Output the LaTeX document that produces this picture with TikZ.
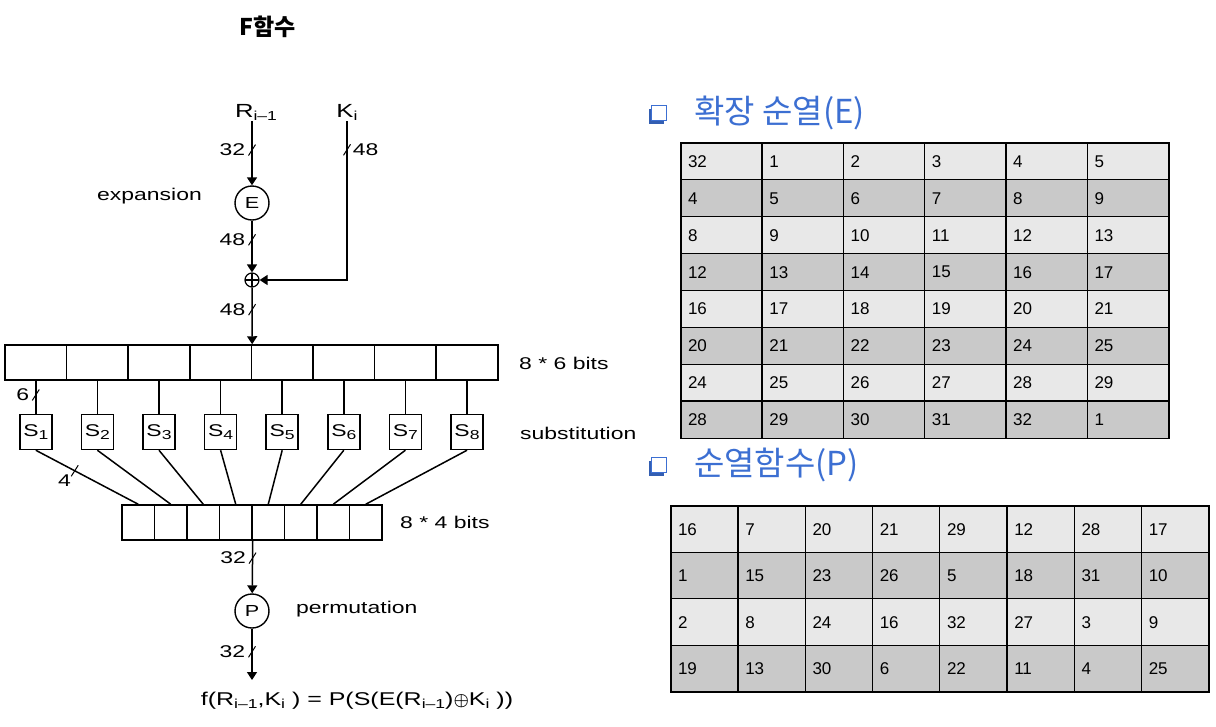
\documentclass[tikz,border=0pt]{standalone}
\usepackage{amsmath}
\usepackage{fontspec}
\setmainfont{Liberation Sans}
\newfontfamily\diagfont[FakeStretch=1.35]{Liberation Sans}
\newfontfamily\krfont{Noto Sans CJK KR}
\usetikzlibrary{arrows.meta,shadows}
\definecolor{headblue}{HTML}{3C6FD2}
\definecolor{rowlight}{HTML}{E8E8E8}
\definecolor{rowdark}{HTML}{C9C9C9}
\newcommand{\low}[1]{\raisebox{-3pt}{\fontsize{13}{13}\selectfont #1}}

\tikzset{
  wire/.style={line width=1.5pt},
  arr/.style={wire,-{Triangle[length=8pt,width=10pt]}},
  lbl/.style={font=\diagfont\fontsize{17}{17}\selectfont,inner sep=1pt},
  op/.style={circle,draw,line width=1.4pt,minimum size=34pt,inner sep=0pt,font=\diagfont\fontsize{16}{16}\selectfont},
  xorop/.style={circle,draw,line width=1.2pt,minimum size=14pt,inner sep=0pt,
    path picture={\draw[line width=1.1pt] (path picture bounding box.north) -- (path picture bounding box.south)
      (path picture bounding box.west) -- (path picture bounding box.east);}},
  bitmark/.pic={\draw[-,line width=1pt] (-3.5pt,-5.5pt) -- (3.5pt,5.5pt);},
  widecell/.style={draw,line width=1.5pt,minimum width=61.6pt,minimum height=35pt,inner sep=0pt},
  sbox/.style={draw,line width=1.5pt,minimum width=32pt,minimum height=35pt,inner sep=0pt,font=\diagfont\fontsize{17}{17}\selectfont},
  narrowcell/.style={draw,line width=1.5pt,minimum width=32.5pt,minimum height=35pt,inner sep=0pt},
  cell/.style={inner xsep=7pt,inner ysep=0pt,align=left,font=\fontsize{17}{17}\selectfont},
  gridline/.style={line width=1.3pt},
  heading/.style={anchor=west,text=headblue,font=\krfont\fontsize{33}{33}\selectfont,inner sep=0pt},
  bullet/.style={draw=headblue,fill=white,line width=1.5pt,minimum size=15pt,inner sep=0pt,
    drop shadow={shadow xshift=-3pt,shadow yshift=-3pt,fill=headblue!85!black,opacity=1}},
}

\begin{document}
\begin{tikzpicture}[x=1pt,y=-1pt]
\useasboundingbox[fill=white] (0,0) rectangle (1216,726);

\node[font=\krfont\bfseries\fontsize{23}{23}\selectfont] (title) at (268,27) {F함수};

% F function
\node[lbl,font=\diagfont\fontsize{19}{19}\selectfont] (R) at (256,112) {R\low{i–1}};
\node[lbl,font=\diagfont\fontsize{19}{19}\selectfont] (K) at (347,112) {K\low{i}};
\node[op] (E) at (252,203) {E};
\node[lbl,anchor=east] (expl) at (203,196) {expansion};
\node[xorop] (xor) at (252,280) {};

\draw[arr] (R.south -| E.north) -- pic[pos=0.45]{bitmark} node[lbl,pos=0.45,left=5pt] (w1) {32} (E);
\draw[arr] (E) -- pic[pos=0.37]{bitmark} node[lbl,pos=0.37,left=5pt] (w2) {48} (xor);
\draw[arr] (K.south) -- pic[pos=0.18]{bitmark} node[lbl,pos=0.18,right=4pt] (wk) {48} (K.south |- xor) -- (xor);

\foreach \i in {1,...,8}
  \node[widecell] (e\i) at ({5+61.6*(\i-0.5)},362.5) {};
\node[lbl,anchor=west] (ebits) at (518,363) {8 * 6 bits};
\draw[arr] (xor) -- pic[pos=0.39]{bitmark} node[lbl,pos=0.39,left=5pt] (w3) {48} (e4.north east);

\foreach \i in {1,...,8}
  \node[sbox] (s\i) at ({5+61.6*(\i-0.5)},432) {S\low{\i}};
\node[lbl,anchor=west] (subl) at (519,433) {substitution};

\foreach \i in {1,...,8}
  \node[narrowcell] (o\i) at ({122+32.5*(\i-0.5)},522.5) {};
\node[lbl,anchor=west] (obits) at (399,522) {8 * 4 bits};

\draw[wire] (e1.south) -- pic[pos=0.43]{bitmark} node[lbl,pos=0.43,left=5pt] (w6) {6} (s1.north);
\foreach \i in {2,...,8}
  \draw[wire] (e\i.south) -- (s\i.north);
\draw[wire] (s1.south) -- pic[pos=0.38]{bitmark} node[lbl,pos=0.38,below left=2pt] (w4) {4} (o1.north);
\foreach \i in {2,...,8}
  \draw[wire] (s\i.south) -- (o\i.north);

\node[op] (P) at (252,611) {P};
\node[lbl,anchor=west] (perm) at (295,609) {permutation};
\coordinate (fend) at (252,680);
\draw[arr] (o4.south east) -- pic[pos=0.33]{bitmark} node[lbl,pos=0.33,left=5pt] (w5) {32} (P);
\draw[arr] (P) -- pic[pos=0.45]{bitmark} node[lbl,pos=0.45,left=5pt] (w7) {32} (fend);
\node[lbl,font=\diagfont\fontsize{18.5}{18.5}\selectfont] (fout) at (357,701)
  {f(R\low{i–1},K\low{i} ) = P(S(E(R\low{i–1})$\boldsymbol{\oplus}$K\low{i} ))};

% expansion table
\node[bullet] (bE) at (659,113) {};
\node[heading] (hE) at (694,113) {확장 순열(E)};
\foreach \vals [count=\r] in {{32,1,2,3,4,5},{4,5,6,7,8,9},{8,9,10,11,12,13},{12,13,14,15,16,17},
    {16,17,18,19,20,21},{20,21,22,23,24,25},{24,25,26,27,28,29},{28,29,30,31,32,1}}
  \foreach \v [count=\c] in \vals {
    \ifodd\r \def\rowfill{rowlight}\else \def\rowfill{rowdark}\fi
    \node[cell,fill=\rowfill,text width=67.3pt,minimum height=36.9pt] (E-\r-\c)
      at ({681+81.3*(\c-0.5)},{143+36.9*(\r-0.5)}) {\v};
  }
\foreach \c in {2,...,6}
  \draw[gridline] (E-1-\c.north west) -- (E-8-\c.south west);
\foreach \r in {2,...,8}
  \draw[gridline] (E-\r-1.north west) -- (E-\r-6.north east);
\draw[line width=1.8pt] (E-1-1.north west) rectangle (E-8-6.south east);

% permutation table
\node[bullet] (bP) at (659,465) {};
\node[heading] (hP) at (694,465) {순열함수(P)};
\foreach \vals [count=\r] in {{16,7,20,21,29,12,28,17},{1,15,23,26,5,18,31,10},
    {2,8,24,16,32,27,3,9},{19,13,30,6,22,11,4,25}}
  \foreach \v [count=\c] in \vals {
    \ifodd\r \def\rowfill{rowlight}\else \def\rowfill{rowdark}\fi
    \node[cell,fill=\rowfill,text width=53.25pt,minimum height=46.5pt] (P-\r-\c)
      at ({671+67.25*(\c-0.5)},{506+46.5*(\r-0.5)}) {\v};
  }
\foreach \c in {2,...,8}
  \draw[gridline] (P-1-\c.north west) -- (P-4-\c.south west);
\foreach \r in {2,...,4}
  \draw[gridline] (P-\r-1.north west) -- (P-\r-8.north east);
\draw[line width=1.8pt] (P-1-1.north west) rectangle (P-4-8.south east);
\end{tikzpicture}
\end{document}
